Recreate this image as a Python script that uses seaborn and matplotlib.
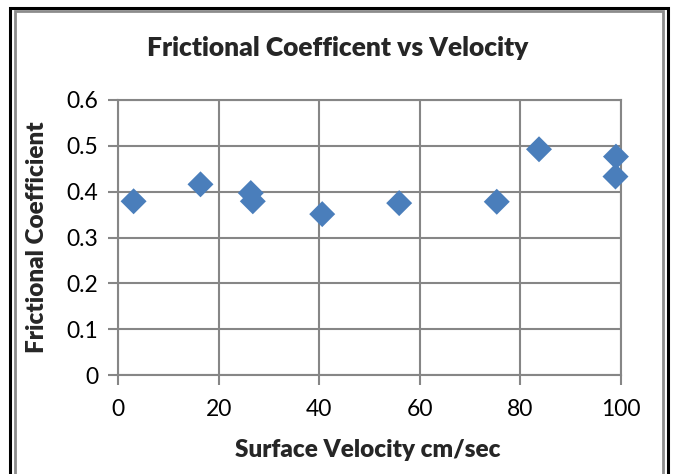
import matplotlib
matplotlib.use("Agg")
import matplotlib.pyplot as plt
import seaborn as sns
import pandas as pd
from matplotlib.patches import Rectangle

velocity = [3.1, 16.4, 26.4, 26.8, 40.6, 55.9, 75.3, 83.7, 99.0, 98.9]
friction = [0.379, 0.416, 0.397, 0.379, 0.351, 0.375, 0.378, 0.4925, 0.4765, 0.433]
x_ticks = [0, 20, 40, 60, 80, 100]
y_ticks = [0, 0.1, 0.2, 0.3, 0.4, 0.5, 0.6]
y_tick_labels = ["0", "0.1", "0.2", "0.3", "0.4", "0.5", "0.6"]

df = pd.DataFrame({"Surface Velocity cm/sec": velocity, "Frictional Coefficient": friction})

sns.set_theme(style="white")
plt.rcParams["font.family"] = ["Lato", "DejaVu Sans"]

W, H = 673, 474
fig = plt.figure(figsize=(W / 100, H / 100), dpi=100)
fig.patch.set_facecolor("white")

left, right, top, bottom = 118, 621, 100, 375
ax = fig.add_axes([left / W, 1 - bottom / H, (right - left) / W, (bottom - top) / H])

grid_c = "#868686"
sns.scatterplot(data=df, x="Surface Velocity cm/sec", y="Frictional Coefficient", ax=ax,
                marker="D", s=175, color="#4A7EBB", edgecolor="none", zorder=3, legend=False,
                clip_on=False)

ax.set_xlim(0, 100)
ax.set_ylim(0, 0.6)
ax.set_xticks(x_ticks)
ax.set_xticklabels([str(v) for v in x_ticks])
ax.set_yticks(y_ticks)
ax.set_yticklabels(y_tick_labels)
ax.grid(True, color=grid_c, linewidth=1.5)
ax.set_axisbelow(True)
for s in ax.spines.values():
    s.set_color(grid_c)
    s.set_linewidth(1.5)
ax.tick_params(axis="both", direction="out", length=7, width=1.5, color=grid_c,
               labelsize=16.5, labelcolor="black", pad=7)
ax.tick_params(axis="x", bottom=True, pad=10)
ax.tick_params(axis="y", left=True)

ax.set_xlabel("")
ax.set_ylabel("")
fig.text(368 / W, 1 - 450 / H, "Surface Velocity cm/sec", ha="center", va="center",
         fontsize=17.5, fontweight="heavy")
fig.text(37 / W, 1 - 237 / H, "Frictional Coefficient", ha="center", va="center",
         rotation=90, fontsize=17.5, fontweight="heavy")
fig.text(338 / W, 1 - 48 / H, "Frictional Coefficent vs Velocity", ha="center", va="center",
         fontsize=19, fontweight="heavy")

# Double frame around the chart
fig.add_artist(Rectangle((9.5 / W, -0.1), (668 - 9.5) / W, 1 - 7.5 / H + 0.1,
                         transform=fig.transFigure, fill=False, edgecolor="black", linewidth=2.2))
fig.add_artist(Rectangle((14.5 / W, -0.1), (663 - 14.5) / W, 1 - 10.5 / H + 0.1,
                         transform=fig.transFigure, fill=False, edgecolor="#8c8c8c", linewidth=2))

fig.savefig("out.png", dpi=100)
